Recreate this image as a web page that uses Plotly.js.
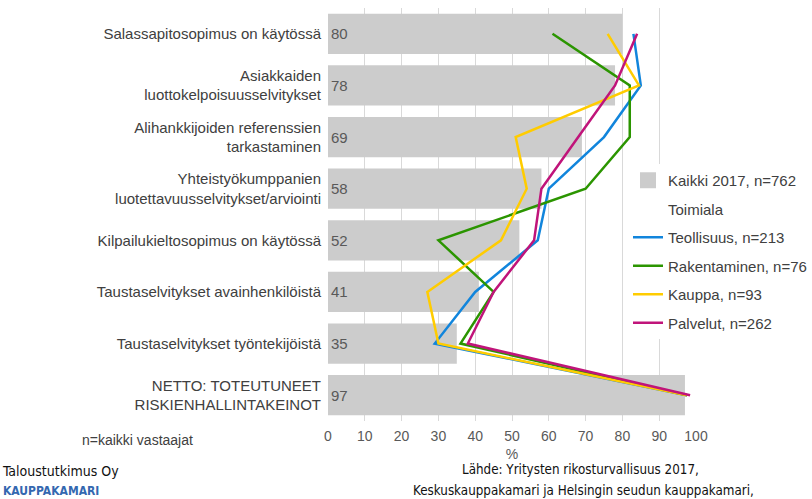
<!DOCTYPE html>
<html>
<head>
<meta charset="utf-8">
<script src="https://cdn.plot.ly/plotly-3.0.1.min.js"></script>
<style>html,body{margin:0;padding:0;background:#fff;}#chart{width:812px;height:499px;}</style>
</head>
<body>
<div id="chart"></div>
<script>
const categories = [
  "Salassapitosopimus on käytössä",
  "Asiakkaiden<br>luottokelpoisuusselvitykset",
  "Alihankkijoiden referenssien<br>tarkastaminen",
  "Yhteistyökumppanien<br>luotettavuusselvitykset/arviointi",
  "Kilpailukieltosopimus on käytössä",
  "Taustaselvitykset avainhenkilöistä",
  "Taustaselvitykset työntekijöistä",
  "NETTO: TOTEUTUNEET<br>RISKIENHALLINTAKEINOT"
];
const kaikki = [80, 78, 69, 58, 52, 41, 35, 97];
const teollisuus = [83, 85, 75, 60, 57, 40, 29, 97.5];
const rakentaminen = [61, 82, 82, 70, 30, 45, 36, 97.6];
const kauppa = [76, 84.5, 51, 54, 47, 27, 30, 97.5];
const palvelut = [84, 78, 68, 58, 56, 45, 38, 98.4];
const xTicks = [0, 10, 20, 30, 40, 50, 60, 70, 80, 90, 100];

const seriesNames = ["Teollisuus, n=213", "Rakentaminen, n=76", "Kauppa, n=93", "Palvelut, n=262"];
const seriesValues = [teollisuus, rakentaminen, kauppa, palvelut];
const seriesColors = ["#1185dc", "#2b9500", "#ffcc00", "#c0147a"];
const barName = "Kaikki 2017, n=762";
const barColor = "#cccccc";

const W = 812, H = 499;
const mL = 328, mR = 116, mT = 8, mB = 78;
const pw = W - mL - mR, ph = H - mT - mB;
const px2x = p => (p - mL) / pw;
const px2y = p => (H - mB - p) / ph;

const FONT = "Liberation Sans, Arial, sans-serif";
const NARROW = "Liberation Sans Narrow, DejaVu Sans Condensed, sans-serif";

const traces = [];
traces.push({
  type: "bar", orientation: "h",
  y: categories, x: kaikki,
  name: barName,
  marker: {color: barColor},
  width: 0.78,
  text: kaikki.map(String),
  textposition: "inside",
  insidetextanchor: "start",
  textfont: {family: FONT, size: 15, color: "#595959"},
  showlegend: false,
  hoverinfo: "none"
});
// legend-only entry with a larger square swatch for the bars
traces.push({
  type: "scatter", mode: "markers",
  x: [null], y: [null],
  name: barName,
  marker: {symbol: "square", size: 18, color: barColor},
  legendgroup: "g0",
  hoverinfo: "none"
});
traces.push({
  type: "scatter", mode: "lines",
  x: [null], y: [null],
  name: "Toimiala",
  line: {color: "rgba(0,0,0,0)", width: 0},
  legendgroup: "g1",
  hoverinfo: "none"
});
seriesNames.forEach((n, i) => {
  traces.push({
    type: "scatter", mode: "lines",
    y: categories, x: seriesValues[i],
    name: n,
    line: {color: seriesColors[i], width: 2.5},
    legendgroup: "g" + (i + 2),
    hoverinfo: "none",
    cliponaxis: false
  });
});

const annotations = [
  {text: "n=kaikki vastaajat", x: px2x(137), y: px2y(440), xanchor: "center", yanchor: "middle",
   font: {family: FONT, size: 14, color: "#404040"}},
  {text: "Taloustutkimus Oy", x: px2x(0), y: px2y(471), xanchor: "left", yanchor: "middle",
   font: {family: NARROW, size: 14, color: "#111111"}},
  {text: "<b>KAUPPAKAMARI</b>", x: px2x(1), y: px2y(491), xanchor: "left", yanchor: "middle",
   font: {family: NARROW, size: 12, color: "#3468b0"}},
  {text: "Lähde: Yritysten rikosturvallisuus 2017,", x: px2x(580), y: px2y(469), xanchor: "center", yanchor: "middle",
   font: {family: NARROW, size: 13.3, color: "#111111"}},
  {text: "Keskuskauppakamari ja Helsingin seudun kauppakamari,", x: px2x(583), y: px2y(490), xanchor: "center", yanchor: "middle",
   font: {family: NARROW, size: 13.3, color: "#111111"}}
].map(a => Object.assign({xref: "paper", yref: "paper", showarrow: false}, a));

const layout = {
  width: W, height: H,
  margin: {l: mL, r: mR, t: mT, b: mB, pad: 0, autoexpand: false},
  paper_bgcolor: "#ffffff", plot_bgcolor: "#ffffff",
  font: {family: FONT, size: 15, color: "#404040"},
  showlegend: true,
  barmode: "overlay",
  xaxis: {
    range: [0, 100],
    tickvals: xTicks,
    ticktext: xTicks.map(String),
    showgrid: true, gridcolor: "#d9d9d9", gridwidth: 1,
    zeroline: false, showline: false, ticks: "",
    ticklabelstandoff: 5,
    tickfont: {family: FONT, size: 14, color: "#595959"},
    title: {text: "%", font: {family: FONT, size: 14, color: "#595959"}, standoff: 6},
    automargin: false,
    fixedrange: true
  },
  yaxis: {
    type: "category",
    autorange: "reversed",
    showgrid: false, zeroline: false, showline: false, ticks: "",
    tickfont: {family: FONT, size: 15, color: "#404040"},
    ticklabelstandoff: 6,
    automargin: false,
    fixedrange: true
  },
  legend: {
    x: px2x(628), y: px2y(164), xanchor: "left", yanchor: "top",
    bgcolor: "#ffffff",
    font: {family: FONT, size: 15, color: "#404040"},
    traceorder: "grouped",
    tracegroupgap: 6
  },
  annotations: annotations
};

Plotly.newPlot("chart", traces, layout, {staticPlot: true, displayModeBar: false});
</script>
</body>
</html>
